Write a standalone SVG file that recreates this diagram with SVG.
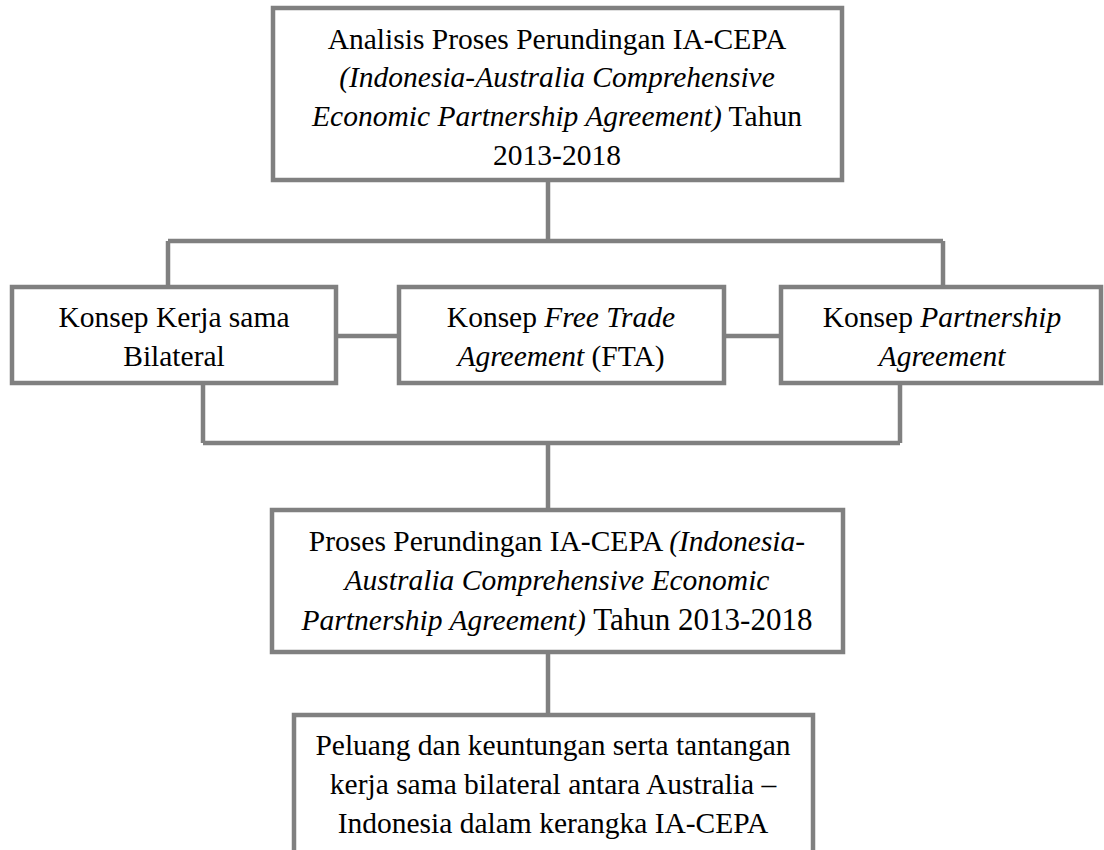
<svg xmlns="http://www.w3.org/2000/svg" width="1104" height="850" viewBox="0 0 1104 850">
<style>
.box{fill:#ffffff;stroke:#808080;stroke-width:4.5}
.ln{fill:none;stroke:#808080;stroke-width:4.5}
text{font-family:"Liberation Serif","Times New Roman",serif;font-size:29.5px;fill:#000000;text-anchor:middle}
.i{font-style:italic}
.big{font-size:31px}
</style>
<rect width="1104" height="850" fill="#ffffff"/>
<g id="connectors">
<path class="ln" d="M548 180 V241 M168 241 H943 M168 241 V287 M943 241 V287"/>
<path class="ln" d="M336 336 H399 M724 336 H781"/>
<path class="ln" d="M203 383 V443 M900 383 V443 M203 443 H900 M548 443 V510"/>
<path class="ln" d="M548 652 V715"/>
</g>
<g id="node-analisis">
<rect class="box" x="273" y="8" width="569" height="172"/>
<text x="557" y="49">Analisis Proses Perundingan IA-CEPA</text>
<text x="557" y="87" class="i">(Indonesia-Australia Comprehensive</text>
<text x="557" y="126"><tspan class="i">Economic Partnership Agreement)</tspan> Tahun</text>
<text x="557" y="165">2013-2018</text>
</g>
<g id="node-bilateral">
<rect class="box" x="12" y="287" width="324" height="96"/>
<text x="174" y="327">Konsep Kerja sama</text>
<text x="174" y="366">Bilateral</text>
</g>
<g id="node-fta">
<rect class="box" x="399" y="287" width="325" height="96"/>
<text x="561" y="327">Konsep <tspan class="i">Free Trade</tspan></text>
<text x="561" y="366"><tspan class="i">Agreement</tspan> (FTA)</text>
</g>
<g id="node-partnership">
<rect class="box" x="781" y="287" width="320" height="96"/>
<text x="942" y="327">Konsep <tspan class="i">Partnership</tspan></text>
<text x="942" y="366" class="i">Agreement</text>
</g>
<g id="node-proses">
<rect class="box" x="272" y="510" width="571" height="142"/>
<text x="557" y="551">Proses Perundingan IA-CEPA <tspan class="i">(Indonesia-</tspan></text>
<text x="557" y="590" class="i">Australia Comprehensive Economic</text>
<text x="557" y="630"><tspan class="i">Partnership Agreement)</tspan> <tspan class="big">Tahun 2013-2018</tspan></text>
</g>
<g id="node-peluang">
<rect class="box" x="294" y="715" width="519" height="160"/>
<text x="553" y="755">Peluang dan keuntungan serta tantangan</text>
<text x="553" y="794">kerja sama bilateral antara Australia –</text>
<text x="553" y="833">Indonesia dalam kerangka IA-CEPA</text>
</g>
</svg>
